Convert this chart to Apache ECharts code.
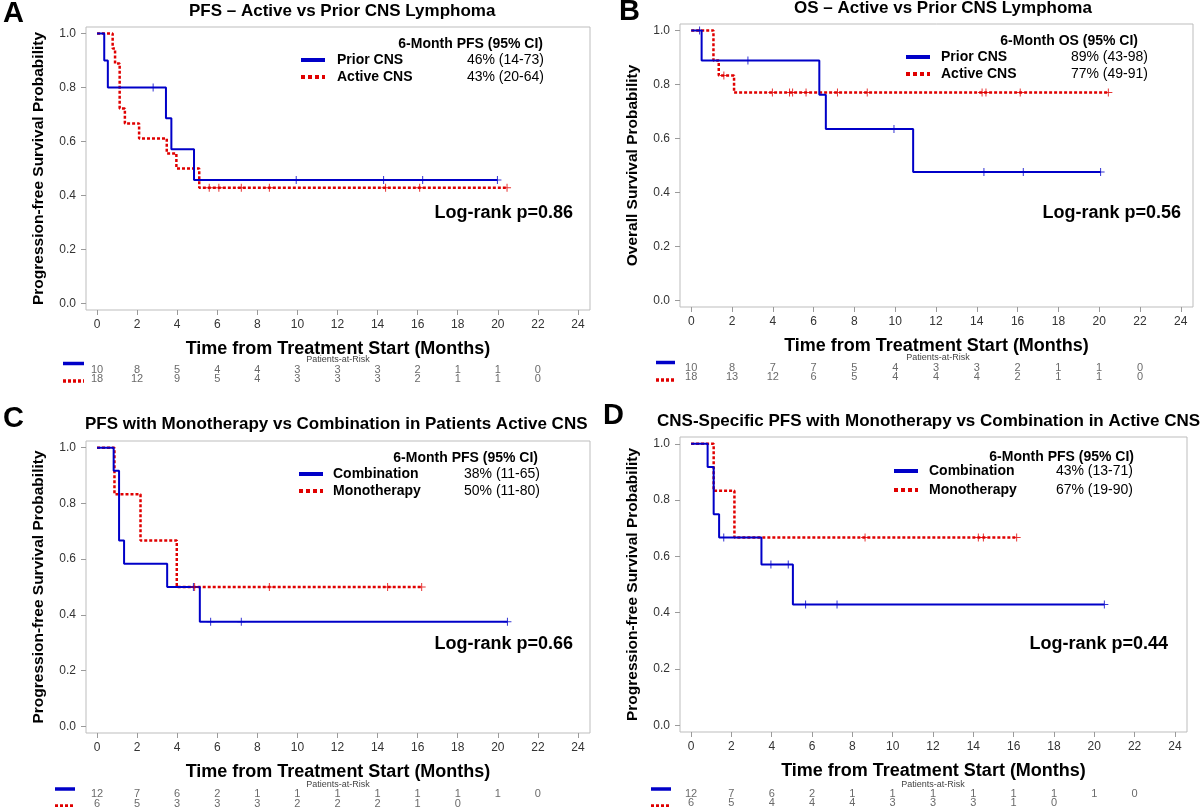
<!DOCTYPE html>
<html><head><meta charset="utf-8">
<script src="https://cdn.jsdelivr.net/npm/echarts@6/dist/echarts.min.js"></script>
<style>html,body{margin:0;padding:0;background:#fff}#c{width:1200px;height:807px}</style>
</head><body><div id="c"></div>
<script>
// ---------------- DATA ----------------
const xTickValues = [0, 2, 4, 6, 8, 10, 12, 14, 16, 18, 20, 22, 24];
const yTickValues = [0, 0.2, 0.4, 0.6, 0.8, 1.0];
const riskTimes = [0, 2, 4, 6, 8, 10, 12, 14, 16, 18, 20, 22];

// Panel A: PFS Prior vs Active CNS
const pfsPriorCurve = [[0, 1], [0.36, 0.9], [0.54, 0.8], [3.44, 0.686], [3.71, 0.571], [4.84, 0.457], [19.98, 0.457]];
const pfsPriorCensor = [2.8, 9.94, 14.3, 16.25, 19.98];
const pfsActiveCurve = [[0, 1], [0.78, 0.944], [0.9, 0.889], [1.13, 0.722], [1.39, 0.667], [2.1, 0.611], [3.48, 0.556], [3.96, 0.5], [5.1, 0.429], [20.46, 0.429]];
const pfsActiveCensor = [5.6, 6.08, 7.2, 8.6, 14.4, 16.1, 20.46];
const pfsPriorRisk = [10, 8, 5, 4, 4, 3, 3, 3, 2, 1, 1, 0];
const pfsActiveRisk = [18, 12, 9, 5, 4, 3, 3, 3, 2, 1, 1, 0];

// Panel B: OS Prior vs Active CNS
const osPriorCurve = [[0, 1], [0.51, 0.889], [6.28, 0.762], [6.6, 0.635], [10.88, 0.476], [20.07, 0.476]];
const osPriorCensor = [0.41, 2.78, 9.94, 14.35, 16.28, 20.07];
const osActiveCurve = [[0, 1], [1.09, 0.889], [1.35, 0.833], [2.1, 0.77], [20.45, 0.77]];
const osActiveCensor = [1.6, 3.98, 4.82, 4.97, 5.63, 7.17, 8.63, 14.26, 14.45, 16.13, 20.45];
const osPriorRisk = [10, 8, 7, 7, 5, 4, 3, 3, 2, 1, 1, 0];
const osActiveRisk = [18, 13, 12, 6, 5, 4, 4, 4, 2, 1, 1, 0];

// Panel C: PFS Combination vs Monotherapy (Active CNS)
const pfsComboCurve = [[0, 1], [0.83, 0.917], [1.1, 0.667], [1.35, 0.583], [3.5, 0.5], [5.13, 0.375], [20.48, 0.375]];
const pfsComboCensor = [4.81, 5.67, 7.2, 20.48];
const pfsMonoCurve = [[0, 1], [0.87, 0.833], [2.17, 0.667], [3.98, 0.5], [16.2, 0.5]];
const pfsMonoCensor = [4.87, 8.6, 14.5, 16.2];
const pfsComboRisk = [12, 7, 6, 2, 1, 1, 1, 1, 1, 1, 1, 0];
const pfsMonoRisk = [6, 5, 3, 3, 3, 2, 2, 2, 1, 0];

// Panel D: CNS-specific PFS Combination vs Monotherapy
const cnsComboCurve = [[0, 1], [0.82, 0.917], [1.12, 0.75], [1.39, 0.667], [3.49, 0.571], [5.05, 0.429], [20.5, 0.429]];
const cnsComboCensor = [1.62, 3.96, 4.82, 5.68, 7.24, 20.5];
const cnsMonoCurve = [[0, 1], [1.12, 0.833], [2.15, 0.667], [16.15, 0.667]];
const cnsMonoCensor = [8.63, 14.25, 14.5, 16.15];
const cnsComboRisk = [12, 7, 6, 2, 1, 1, 1, 1, 1, 1, 1, 0];
const cnsMonoRisk = [6, 5, 4, 4, 4, 3, 3, 3, 1, 0];

// Texts
const panelLetters = ['A', 'B', 'C', 'D'];
const panelTitles = ['PFS \u2013 Active vs Prior CNS Lymphoma', 'OS \u2013 Active vs Prior CNS Lymphoma',
  'PFS with Monotherapy vs Combination in Patients Active CNS', 'CNS-Specific PFS with Monotherapy vs Combination in Active CNS'];
const yTitles = ['Progression-free Survival Probability', 'Overall Survival Probability',
  'Progression-free Survival Probability', 'Progression-free Survival Probability'];
const xTitle = 'Time from Treatment Start (Months)';
const legendHeaders = ['6-Month PFS (95% CI)', '6-Month OS (95% CI)', '6-Month PFS (95% CI)', '6-Month PFS (95% CI)'];
const groupNamesA = ['Prior CNS', 'Active CNS'];
const groupNamesC = ['Combination', 'Monotherapy'];
const legendValues = [['46% (14-73)', '43% (20-64)'], ['89% (43-98)', '77% (49-91)'], ['38% (11-65)', '50% (11-80)'], ['43% (13-71)', '67% (19-90)']];
const logRankTexts = ['Log-rank p=0.86', 'Log-rank p=0.56', 'Log-rank p=0.66', 'Log-rank p=0.44'];
const riskLabel = 'Patients-at-Risk';

// ---------------- LAYOUT / STYLE ----------------
const FONT = '"Liberation Sans", Arial, Helvetica, sans-serif';
const BLUE = '#0000c8', RED = '#e00000';
const X_MIN = -0.55, X_MAX = 24.6, Y_MIN = -0.024, Y_MAX = 1.024;

const panels = [
  { grid: { left: 86, top: 27, width: 504, height: 283 }, letter: [3, 14], title: [189, 3],
    groups: groupNamesA, curves: [pfsPriorCurve, pfsActiveCurve], censors: [pfsPriorCensor, pfsActiveCensor], risks: [pfsPriorRisk, pfsActiveRisk],
    leg: { headerRight: 543, headerY: 44, lineX: 301, labelX: 337, valRight: 544, rowY: [60, 77] },
    lr: { right: 573, y: 213 },
    rk: { labelX: 338, labelY: 360, rowY: [370, 378.5], lineX: [63, 84], lineY: [363.5, 381] } },
  { grid: { left: 680, top: 24, width: 513, height: 283 }, letter: [619, 12], title: [794, 0],
    groups: groupNamesA, curves: [osPriorCurve, osActiveCurve], censors: [osPriorCensor, osActiveCensor], risks: [osPriorRisk, osActiveRisk],
    leg: { headerRight: 1138, headerY: 41, lineX: 906, labelX: 941, valRight: 1148, rowY: [57, 74] },
    lr: { right: 1181, y: 213 },
    rk: { labelX: 938, labelY: 358, rowY: [368, 376.5], lineX: [656, 675], lineY: [362.5, 380] } },
  { grid: { left: 86, top: 441, width: 504, height: 292 }, letter: [3, 419], title: [85, 416],
    groups: groupNamesC, curves: [pfsComboCurve, pfsMonoCurve], censors: [pfsComboCensor, pfsMonoCensor], risks: [pfsComboRisk, pfsMonoRisk],
    leg: { headerRight: 538, headerY: 458, lineX: 299, labelX: 333, valRight: 540, rowY: [474, 491] },
    lr: { right: 573, y: 644 },
    rk: { labelX: 338, labelY: 785, rowY: [794, 803.5], lineX: [55, 75], lineY: [789, 806] } },
  { grid: { left: 680, top: 437, width: 507, height: 295 }, letter: [603, 416], title: [657, 413],
    groups: groupNamesC, curves: [cnsComboCurve, cnsMonoCurve], censors: [cnsComboCensor, cnsMonoCensor], risks: [cnsComboRisk, cnsMonoRisk],
    leg: { headerRight: 1134, headerY: 457, lineX: 894, labelX: 929, valRight: 1133, rowY: [471, 490] },
    lr: { right: 1168, y: 644 },
    rk: { labelX: 933, labelY: 785, rowY: [794, 803], lineX: [651, 671], lineY: [789, 806] } }
];

const colors = [BLUE, RED];
const lineTypes = ['solid', [3, 2]];
const lineWidths = [2, 2.5];
const PLUS = 'path://M-0.5,-4 L0.5,-4 L0.5,-0.5 L4,-0.5 L4,0.5 L0.5,0.5 L0.5,4 L-0.5,4 L-0.5,0.5 L-4,0.5 L-4,-0.5 L-0.5,-0.5 Z';

function survivalAt(curve, t) {
  let s = curve[0][1];
  for (const p of curve) { if (p[0] <= t + 1e-9) s = p[1]; }
  return s;
}

// ---------------- OPTION ----------------
const grids = [], xAxes = [], yAxes = [], series = [], titles = [], graphics = [];

function txt(x, y, text, font, fill, align, vAlign) {
  return { type: 'text', x: x, y: y, silent: true,
    style: { text: text, font: font, fill: fill || '#000', align: align || 'left', textAlign: align || 'left',
      verticalAlign: vAlign || 'middle', textVerticalAlign: vAlign || 'middle' } };
}
function seg(x1, y1, x2, y2, color, w, dash) {
  return { type: 'line', silent: true, shape: { x1: x1, y1: y1, x2: x2, y2: y2 },
    style: { stroke: color, lineWidth: w, lineDash: dash || null } };
}

panels.forEach((p, i) => {
  grids.push(Object.assign({ show: true, borderColor: '#bdbdbd', borderWidth: 1, backgroundColor: '#fff' }, p.grid));
  xAxes.push({ type: 'value', gridIndex: i, min: X_MIN, max: X_MAX, position: 'bottom',
    axisLine: { show: false, onZero: false }, splitLine: { show: false },
    axisTick: { show: true, length: 5, lineStyle: { color: '#9a9a9a' }, customValues: xTickValues },
    axisLabel: { show: true, margin: 9, fontFamily: FONT, fontSize: 12, color: '#333', customValues: xTickValues },
    name: xTitle, nameLocation: 'middle', nameGap: 30,
    nameTextStyle: { fontFamily: FONT, fontSize: 18, fontWeight: 'bold', color: '#000' } });
  yAxes.push({ type: 'value', gridIndex: i, min: Y_MIN, max: Y_MAX, position: 'left',
    axisLine: { show: false, onZero: false }, splitLine: { show: false },
    axisTick: { show: true, length: 5, lineStyle: { color: '#9a9a9a' }, customValues: yTickValues },
    axisLabel: { show: true, margin: 10, fontFamily: FONT, fontSize: 12, color: '#333', customValues: yTickValues,
      formatter: v => v.toFixed(1) },
    name: yTitles[i], nameLocation: 'middle', nameRotate: 90, nameGap: 39,
    nameTextStyle: { fontFamily: FONT, fontSize: 15.5, fontWeight: 'bold', color: '#000' } });

  [0, 1].forEach(g => {
    series.push({ type: 'line', name: p.groups[g], xAxisIndex: i, yAxisIndex: i, step: 'end',
      showSymbol: false, silent: true, animation: false, z: g === 1 ? 3 : 4,
      lineStyle: { color: colors[g], width: lineWidths[g], type: lineTypes[g], cap: 'butt' },
      data: p.curves[g] });
    series.push({ type: 'scatter', xAxisIndex: i, yAxisIndex: i, symbol: PLUS, symbolSize: 8,
      silent: true, animation: false, z: 5, itemStyle: { color: colors[g] },
      data: p.censors[g].map(t => [t, survivalAt(p.curves[g], t)]) });
  });

  titles.push({ text: panelTitles[i], left: p.title[0], top: p.title[1], padding: 0,
    textStyle: { fontFamily: FONT, fontSize: 17, fontWeight: 'bold', color: '#000' } });
  graphics.push(txt(p.letter[0], p.letter[1], panelLetters[i], 'bold 29px ' + FONT, '#000', 'left', 'middle'));

  const L = p.leg;
  graphics.push(txt(L.headerRight, L.headerY, legendHeaders[i], 'bold 14px ' + FONT, '#000', 'right'));
  [0, 1].forEach(g => {
    graphics.push(seg(L.lineX, L.rowY[g], L.lineX + 24, L.rowY[g], colors[g], 4, g === 1 ? [4, 3] : null));
    graphics.push(txt(L.labelX, L.rowY[g], p.groups[g], 'bold 14px ' + FONT, '#000', 'left'));
    graphics.push(txt(L.valRight, L.rowY[g], legendValues[i][g], '14px ' + FONT, '#000', 'right'));
  });
  graphics.push(txt(p.lr.right, p.lr.y, logRankTexts[i], 'bold 18px ' + FONT, '#000', 'right'));

  const R = p.rk;
  graphics.push(txt(R.labelX, R.labelY, riskLabel, '9px ' + FONT, '#444', 'center'));
  graphics.push(seg(R.lineX[0], R.lineY[0], R.lineX[1], R.lineY[0], BLUE, 3.5, null));
  graphics.push(seg(R.lineX[0], R.lineY[1], R.lineX[1], R.lineY[1], RED, 3.5, [3, 2]));
});

// at-risk grids share the x scale of each panel
panels.forEach((p, i) => {
  const gi = grids.length;
  grids.push({ show: false, left: p.grid.left, width: p.grid.width, top: p.rk.rowY[0], height: p.rk.rowY[1] - p.rk.rowY[0] });
  xAxes.push({ type: 'value', gridIndex: gi, min: X_MIN, max: X_MAX, show: false });
  yAxes.push({ type: 'value', gridIndex: gi, min: 0, max: 1, inverse: true, show: false });
  [0, 1].forEach(g => {
    series.push({ type: 'scatter', xAxisIndex: gi, yAxisIndex: gi, symbolSize: 1, silent: true, animation: false,
      itemStyle: { color: 'rgba(0,0,0,0)' },
      label: { show: true, position: 'inside', fontFamily: FONT, fontSize: 11, color: '#444',
        formatter: d => String(d.value[2]) },
      data: p.risks[g].map((n, k) => [riskTimes[k], g, n]) });
  });
});

const chart = echarts.init(document.getElementById('c'), null, { renderer: 'canvas' });
chart.setOption({
  backgroundColor: '#fff',
  animation: false,
  title: titles,
  grid: grids,
  xAxis: xAxes,
  yAxis: yAxes,
  series: series,
  graphic: { elements: graphics }
});
</script>
</body></html>
